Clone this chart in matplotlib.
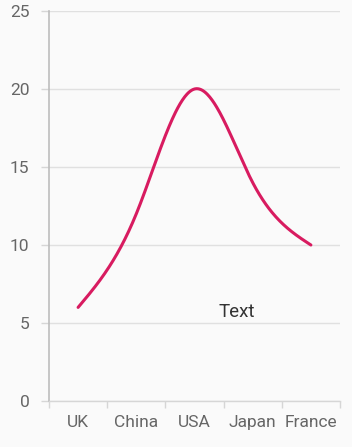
import matplotlib
matplotlib.use('Agg')
import matplotlib.pyplot as plt
import numpy as np

# Data
categories = ['UK', 'China', 'USA', 'Japan', 'France']
values = [6, 12, 20, 14, 10]
y_ticks = [0, 5, 10, 15, 20, 25]


def natural_spline(x, y, n=300):
    # natural cubic spline through the points
    x = np.asarray(x, float)
    y = np.asarray(y, float)
    k = len(x)
    h = np.diff(x)
    A = np.zeros((k, k))
    b = np.zeros(k)
    A[0, 0] = A[-1, -1] = 1
    for i in range(1, k - 1):
        A[i, i - 1] = h[i - 1]
        A[i, i] = 2 * (h[i - 1] + h[i])
        A[i, i + 1] = h[i]
        b[i] = 3 * ((y[i + 1] - y[i]) / h[i] - (y[i] - y[i - 1]) / h[i - 1])
    c = np.linalg.solve(A, b)
    xs = np.linspace(x[0], x[-1], n)
    ys = np.empty_like(xs)
    for j, xv in enumerate(xs):
        i = min(np.searchsorted(x, xv, side='right') - 1, k - 2)
        bi = (y[i + 1] - y[i]) / h[i] - h[i] * (2 * c[i] + c[i + 1]) / 3
        di = (c[i + 1] - c[i]) / (3 * h[i])
        t = xv - x[i]
        ys[j] = y[i] + bi * t + c[i] * t ** 2 + di * t ** 3
    return xs, ys


plt.rcParams['font.family'] = ['Roboto', 'DejaVu Sans']

fig = plt.figure(figsize=(3.52, 4.47), dpi=100, facecolor='#FAFAFA')
ax = fig.add_axes([49 / 352, 1 - 401 / 447, 291 / 352, 390 / 447])
ax.set_facecolor('#FAFAFA')

idx = np.arange(len(categories))
xs, ys = natural_spline(idx, values)
ax.plot(xs, ys, color='#D81B60', linewidth=2.2, solid_capstyle='round', zorder=3)

ax.text(2.72, 5.7, 'Text', fontsize=13.5, color='#333333', ha='center', va='center')

ax.set_xlim(-0.5, len(categories) - 0.5)
ax.set_ylim(0, 25)
ax.set_yticks(y_ticks)
ax.yaxis.grid(True, color='#E0E0E0', linewidth=1)
ax.set_axisbelow(True)

ax.set_xticks(np.arange(len(categories) + 1) - 0.5)
ax.set_xticklabels([])
ax.set_xticks(idx, minor=True)
ax.set_xticklabels(categories, minor=True)
ax.tick_params(axis='x', which='minor', length=0, labelsize=12.5, colors='#666666', pad=10)
ax.tick_params(axis='x', which='major', length=5, color='#D6D6D6', width=1)
ax.tick_params(axis='y', length=6, color='#D6D6D6', width=1, labelsize=12.5, labelcolor='#666666', pad=8)

for s in ['top', 'right']:
    ax.spines[s].set_visible(False)
ax.spines['left'].set_color('#BDBDBD')
ax.spines['left'].set_linewidth(1.2)
ax.spines['bottom'].set_color('#D6D6D6')
ax.spines['bottom'].set_linewidth(1)

fig.savefig('out.png', dpi=100, facecolor=fig.get_facecolor())
